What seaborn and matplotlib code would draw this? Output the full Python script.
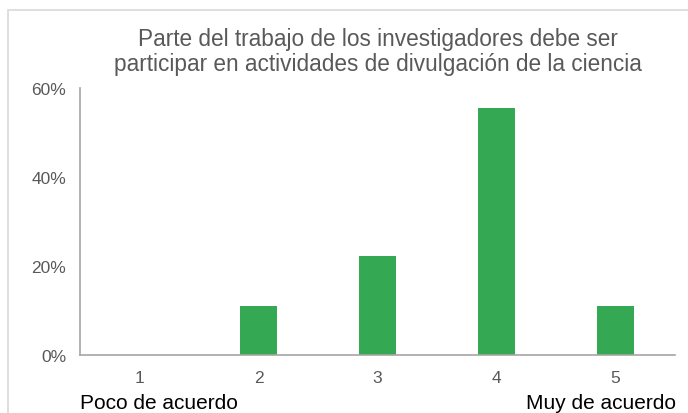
import pandas as pd
import matplotlib.pyplot as plt
import matplotlib.patches as mpatches
from matplotlib.ticker import PercentFormatter
import seaborn as sns

# respuestas (escala 1-5) y porcentaje de encuestados
niveles = ['1', '2', '3', '4', '5']
porcentajes = [0.0, 11.1, 22.2, 55.6, 11.1]
ticks_y = [0, 20, 40, 60]
titulo = ('Parte del trabajo de los investigadores debe ser\n'
          'participar en actividades de divulgación de la ciencia')
etiqueta_izq = 'Poco de acuerdo'
etiqueta_der = 'Muy de acuerdo'

df = pd.DataFrame({'nivel': niveles, 'pct': porcentajes})

sns.set_theme(style="white")
plt.rcParams['font.family'] = ['Liberation Sans', 'DejaVu Sans']

gris = '#595959'
fig = plt.figure(figsize=(6.88, 4.14), dpi=100)
ax = fig.add_axes([80 / 688, 1 - 356 / 414, 595 / 688, 267 / 414])

sns.barplot(x='nivel', y='pct', data=df, color='#34A853', width=0.31,
            saturation=1, edgecolor='none', ax=ax)

ax.set_ylim(0, 60)
ax.set_yticks(ticks_y)
ax.yaxis.set_major_formatter(PercentFormatter(decimals=0))
ax.set_xlabel('')
ax.set_ylabel('')
ax.tick_params(axis='both', length=0, labelsize=12.5, labelcolor=gris)
ax.tick_params(axis='x', pad=11)
ax.tick_params(axis='y', pad=10)

for side in ['top', 'right']:
    ax.spines[side].set_visible(False)
for side in ['left', 'bottom']:
    ax.spines[side].set_color('#A6A6A6')
    ax.spines[side].set_linewidth(1.2)

fig.text(378 / 688, 1 - 52 / 414, titulo, ha='center', va='center',
         fontsize=16.3, color=gris, linespacing=1.1)
fig.text(80 / 688, 1 - 409 / 414, etiqueta_izq, ha='left', va='baseline',
         fontsize=15, color='black')
fig.text(676 / 688, 1 - 409 / 414, etiqueta_der, ha='right', va='baseline',
         fontsize=15, color='black')

# marco claro del gráfico
fig.patches.append(mpatches.Rectangle((8 / 688, -0.1), 1.0, 1.1 - 11 / 414,
                                      transform=fig.transFigure, fill=False,
                                      edgecolor='#D9D9D9', linewidth=1.2))

plt.savefig('out.png', dpi=100)
